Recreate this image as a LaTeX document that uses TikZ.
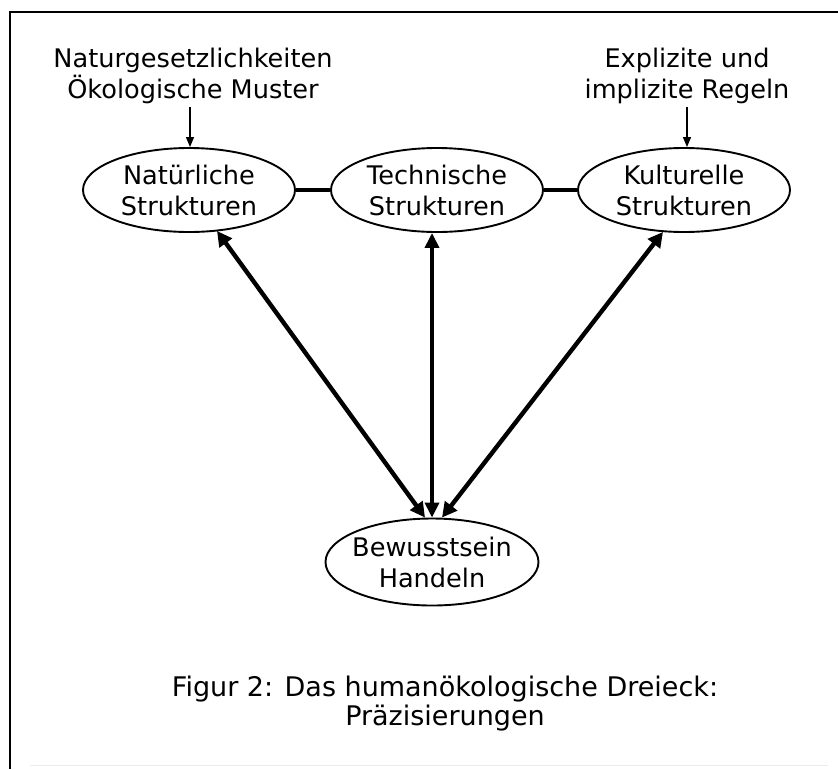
\documentclass[tikz,border=0pt]{standalone}
\usepackage{fontspec}
\setmainfont{DejaVu Sans}
\usetikzlibrary{shapes.geometric,arrows.meta,calc}
\begin{document}
\begin{tikzpicture}[x=1pt,y=-1pt,
  ellbox/.style={ellipse,draw,line width=1.9pt,minimum width=212pt,minimum height=84pt,inner xsep=-25pt,inner ysep=-12pt,align=center,
    font=\fontsize{25.6}{31}\selectfont},
  lbl/.style={align=center,inner sep=3pt,font=\fontsize{25.6}{31.5}\selectfont},
  thinarr/.style={line width=1.2pt,-{Triangle[length=10pt,width=8pt]}},
  bigarr/.style={line width=4.4pt,{Triangle[length=15pt,width=15pt]}-{Triangle[length=15pt,width=15pt]}},
  midarr/.style={line width=3.6pt,{Triangle[length=15pt,width=14pt]}-{Triangle[length=15pt,width=14pt]}},
  link/.style={line width=3.4pt}]
\useasboundingbox (0,0) rectangle (838,769);
\fill[white] (0,0) rectangle (838,769);
% frame
\draw[line width=1.8pt] (10,769) -- (10,12) -- (838,12);
\draw[line width=0.8pt,black!8] (30,765) -- (828,765);
% ellipses
\node[ellbox] (nat) at (189,190) {Natürliche\\Strukturen};
\node[ellbox] (tech) at (437,190) {Technische\\Strukturen};
\node[ellbox] (kult) at (684,190) {Kulturelle\\Strukturen};
\node[ellbox,minimum width=213pt,minimum height=87pt] (bew) at (432,562) {Bewusstsein\\Handeln};
% top labels
\node[lbl] (lab1) at (193,76) {Naturgesetzlichkeiten\\Ökologische Muster};
\node[lbl] (lab2) at (687,76) {Explizite und\\implizite Regeln};
\draw[thinarr] (lab1.south -| nat.north) ++(1,0) coordinate (a1) -- ($(nat.north)+(1,0)$);
\draw[thinarr] (lab2.south -| kult.north) ++(3,0) coordinate (a2) -- ($(kult.north)+(3,0)$);
% links
\draw[link] (nat.east) -- (tech.west);
\draw[link] (tech.east) -- (kult.west);
% arrows
\draw[bigarr] ($(nat.south)+(28,-2)$) -- ($(bew.north)+(-7,0)$);
\draw[midarr] ($(tech.south)+(-5,0)$) -- ($(bew.north)+(0,0)$);
\draw[bigarr] ($(kult.south)+(-21,-1)$) -- ($(bew.north)+(10,0)$);
% caption
\node[align=center,font=\fontsize{27}{29}\selectfont] (cap) at (445,704) {Figur 2: Das humanökologische Dreieck:\\Präzisierungen};
\end{tikzpicture}
\end{document}
